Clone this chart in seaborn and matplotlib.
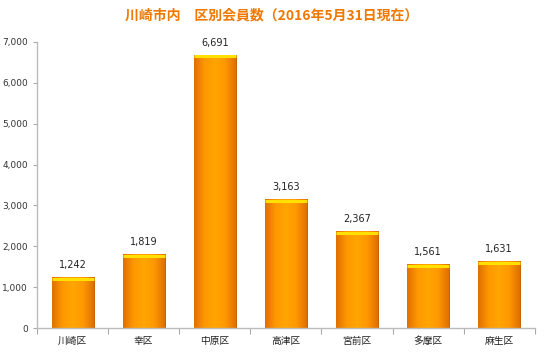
import matplotlib
matplotlib.use("Agg")
import matplotlib.pyplot as plt
import seaborn as sns
import pandas as pd
import numpy as np
from matplotlib.ticker import FuncFormatter, MultipleLocator, FixedLocator
from matplotlib.colors import LinearSegmentedColormap

categories = ["川崎区", "幸区", "中原区", "高津区", "宮前区", "多摩区", "麻生区"]
values = [1242, 1819, 6691, 3163, 2367, 1561, 1631]
title = "川崎市内　区別会員数（2016年5月31日現在）"

sns.set_theme(style="white")
plt.rcParams['font.family'] = ['DejaVu Sans', 'Noto Sans CJK JP']

df = pd.DataFrame({"区": categories, "会員数": values})

fig = plt.figure(figsize=(5.44, 3.55), dpi=100)
ax = fig.add_axes([0.068, 0.076, 0.915, 0.806])
sns.barplot(data=df, x="区", y="会員数", color="#FF9A00", width=0.59,
            edgecolor="#C86000", linewidth=0.7, saturation=1, ax=ax)

ax.set_ylim(0, 7000)
ax.set_xlim(-0.5, len(categories) - 0.5)

cmap = LinearSegmentedColormap.from_list(
    "og", ["#E07000", "#FF9800", "#FFA500", "#FF9800", "#E07000"])
grad = np.linspace(0, 1, 64).reshape(1, -1)
for p, v in zip(ax.patches, values):
    x0 = p.get_x(); w = p.get_width(); h = p.get_height()
    im = ax.imshow(grad, cmap=cmap, aspect="auto",
                   extent=[x0, x0 + w, 0, h], zorder=p.get_zorder() + 0.1)
    im.set_clip_path(p)
    ax.plot([x0, x0 + w], [h - 45, h - 45], color="#FFE000", lw=2.2,
            solid_capstyle="butt", zorder=p.get_zorder() + 0.2)
    ax.text(x0 + w / 2, v + 170, f"{v:,}",
            ha="center", va="bottom", fontsize=7, color="#222222")
ax.set_aspect("auto")
ax.set_ylim(0, 7000)
ax.set_xlim(-0.5, len(categories) - 0.5)

ax.yaxis.set_major_locator(MultipleLocator(1000))
ax.yaxis.set_major_formatter(FuncFormatter(lambda v, p: f"{int(v):,}"))
ax.set_xlabel("")
ax.set_ylabel("")
ax.tick_params(axis="y", labelsize=6.5, colors="#333333", length=3, width=0.8, color="#AAAAAA", direction="out", left=True)
ax.tick_params(axis="x", labelsize=7, colors="#222222", length=0, pad=6)
ax.xaxis.set_minor_locator(FixedLocator([i + 0.5 for i in range(-1, len(categories))]))
ax.tick_params(axis="x", which="minor", length=4, color="#AAAAAA", width=0.8, bottom=True)
for s in ["top", "right"]:
    ax.spines[s].set_visible(False)
for s in ["left", "bottom"]:
    ax.spines[s].set_color("#BBBBBB")
    ax.spines[s].set_linewidth(1)

fig.text(0.5, 0.955, title, ha="center", va="center", fontsize=10,
         fontweight="bold", color="#F07800",
         family=['Noto Sans CJK JP', 'DejaVu Sans'])

fig.savefig("out.png", dpi=100)
